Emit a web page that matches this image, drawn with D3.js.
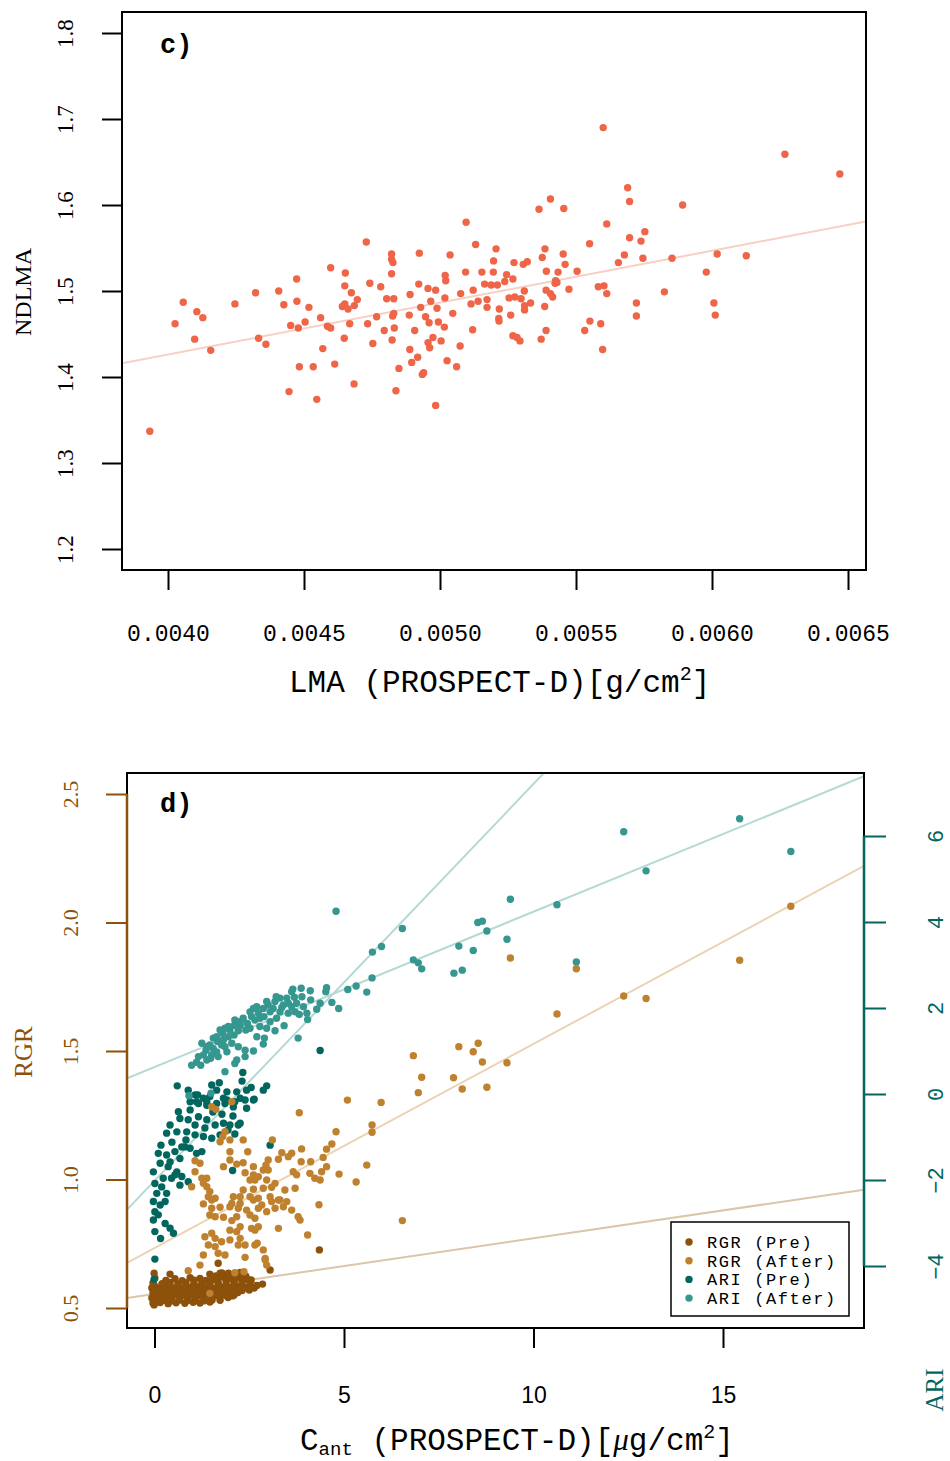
<!DOCTYPE html>
<html><head><meta charset="utf-8">
<script src="https://cdn.jsdelivr.net/npm/d3@7"></script>
<style>body{margin:0;background:#fff} svg{display:block}</style>
</head><body>
<svg id="chart" width="950" height="1461"></svg>
<script>
// ================= DATA =================
// Panel c : LMA (PROSPECT-D) vs NDLMA
const lmaValues = [0.003933,0.004026,0.004056,0.004106,0.004128,0.004098,0.004157,0.004246,0.004322,0.004333,0.004360,0.004407,0.004426,0.004473,0.004474,0.004518,0.004451,0.004479,0.004504,0.004445,0.004483,0.004534,0.004547,0.004561,0.004569,0.004586,0.004598,0.004598,0.004613,0.004652,0.004650,0.004674,0.004696,0.004641,0.004650,0.004662,0.004685,0.004668,0.004648,0.004684,0.004729,0.004742,0.004782,0.004804,0.004830,0.004767,0.004734,0.004753,0.004795,0.004822,0.004822,0.004827,0.004822,0.004830,0.004826,0.004832,0.004824,0.004849,0.004838,0.004924,0.004922,0.004890,0.004887,0.004929,0.004907,0.004889,0.004918,0.004896,0.004940,0.004935,0.004984,0.004956,0.004984,0.004966,0.004989,0.004947,0.004960,0.004994,0.005016,0.004974,0.004956,0.004962,0.005004,0.005026,0.005061,0.005074,0.005047,0.005018,0.005019,0.005021,0.005037,0.005096,0.005131,0.005094,0.005154,0.005164,0.005122,0.005076,0.005114,0.005140,0.005173,0.005173,0.005120,0.005600,0.006268,0.006470,0.005690,0.005697,0.005892,0.005406,0.005364,0.005455,0.005613,0.005753,0.005697,0.005739,0.005550,0.005206,0.005386,0.005376,0.005453,0.005678,0.005746,0.005853,0.006019,0.006126,0.005197,0.005272,0.005306,0.005321,0.005460,0.005656,0.005196,0.005245,0.005391,0.005434,0.005504,0.005979,0.005188,0.005211,0.005238,0.005268,0.005425,0.005430,0.005423,0.005582,0.005603,0.005310,0.005390,0.005406,0.005414,0.005474,0.005613,0.005825,0.005254,0.005275,0.005298,0.005333,0.005311,0.005311,0.005218,0.005385,0.005722,0.006007,0.006012,0.005722,0.005260,0.005216,0.005217,0.005390,0.005532,0.005551,0.005591,0.005268,0.005283,0.005294,0.005372,0.005598];
const ndlmaValues = [1.337,1.462,1.487,1.476,1.469,1.444,1.431,1.485,1.498,1.445,1.438,1.500,1.484,1.514,1.488,1.481,1.460,1.457,1.464,1.383,1.412,1.412,1.374,1.469,1.433,1.459,1.457,1.527,1.415,1.521,1.506,1.498,1.490,1.482,1.485,1.479,1.483,1.462,1.445,1.392,1.557,1.509,1.505,1.491,1.491,1.470,1.462,1.439,1.454,1.543,1.537,1.533,1.520,1.474,1.471,1.457,1.443,1.410,1.384,1.544,1.508,1.496,1.472,1.481,1.454,1.432,1.423,1.417,1.405,1.403,1.367,1.503,1.501,1.488,1.480,1.470,1.463,1.464,1.458,1.446,1.440,1.434,1.442,1.419,1.412,1.436,1.474,1.492,1.518,1.512,1.542,1.580,1.554,1.522,1.522,1.508,1.501,1.497,1.485,1.488,1.490,1.481,1.455,1.690,1.659,1.636,1.620,1.604,1.600,1.607,1.595,1.596,1.578,1.569,1.562,1.558,1.555,1.549,1.549,1.539,1.543,1.542,1.538,1.538,1.543,1.541,1.535,1.533,1.531,1.534,1.531,1.533,1.522,1.519,1.523,1.522,1.523,1.522,1.507,1.507,1.511,1.514,1.512,1.510,1.509,1.505,1.506,1.500,1.501,1.497,1.493,1.502,1.497,1.499,1.492,1.493,1.491,1.486,1.483,1.478,1.479,1.482,1.486,1.486,1.472,1.471,1.472,1.468,1.465,1.454,1.454,1.465,1.462,1.448,1.446,1.442,1.444,1.432];
const lmaTicks = [0.0040,0.0045,0.0050,0.0055,0.0060,0.0065];
const ndlmaTicks = [1.2,1.3,1.4,1.5,1.6,1.7,1.8];
const fitNdlma = [1.185, 60.3];              // intercept, slope

// Panel d : Cant (PROSPECT-D) vs RGR (left axis) and ARI (right axis); pairs [Cant, value]
const rgrPre = [[-0.04,0.519],[0.15,0.521],[0.36,0.517],[0.57,0.520],[0.80,0.518],[1.02,0.522],[1.20,0.519],[1.46,0.523],
[0.05,0.529],[0.25,0.530],[0.46,0.528],[0.67,0.531],[0.88,0.529],[1.09,0.530],[1.31,0.528],[1.52,0.531],[1.73,0.530],
[-0.07,0.539],[0.09,0.537],[0.28,0.541],[0.46,0.536],[0.67,0.540],[0.88,0.538],[1.09,0.542],[1.31,0.537],[1.52,0.540],[1.73,0.544],[1.94,0.541],
[0.00,0.548],[0.20,0.549],[0.41,0.547],[0.62,0.550],[0.83,0.548],[1.04,0.549],[1.25,0.547],[1.46,0.550],[1.68,0.548],[1.89,0.549],[2.10,0.551],
[-0.04,0.558],[0.15,0.560],[0.33,0.556],[0.54,0.559],[0.75,0.562],[0.94,0.557],[1.15,0.560],[1.36,0.555],[1.60,0.561],[1.78,0.558],[1.99,0.563],[2.20,0.560],
[0.04,0.568],[0.23,0.569],[0.44,0.567],[0.65,0.570],[0.86,0.568],[1.06,0.569],[1.27,0.567],[1.48,0.570],[1.69,0.568],[1.89,0.569],[2.10,0.571],[2.31,0.568],[2.50,0.570],
[-0.07,0.578],[0.09,0.576],[0.30,0.580],[0.51,0.577],[0.73,0.575],[0.94,0.579],[1.15,0.582],[1.36,0.578],[1.57,0.576],[1.78,0.581],[1.99,0.579],[2.20,0.583],[2.41,0.580],[2.63,0.578],
[0.00,0.587],[0.20,0.588],[0.41,0.586],[0.62,0.589],[0.83,0.587],[1.04,0.588],[1.25,0.586],[1.46,0.589],[1.68,0.587],[1.89,0.588],[2.10,0.590],[2.31,0.587],[2.52,0.589],[2.70,0.588],
[-0.04,0.597],[0.20,0.595],[0.41,0.599],[0.62,0.594],[0.83,0.598],[1.04,0.596],[1.25,0.601],[1.46,0.597],[1.68,0.599],[1.89,0.603],[2.10,0.598],[2.31,0.601],[2.52,0.604],
[0.30,0.607],[0.73,0.606],[1.04,0.608],[1.36,0.607],[1.62,0.609],[1.89,0.610],[2.10,0.608],[2.31,0.611],[2.55,0.609],
[0.01,0.617],[0.54,0.614],[0.94,0.618],[1.20,0.615],[1.52,0.619],[1.78,0.621],[1.99,0.616],[2.20,0.620],[2.41,0.624],
[1.62,0.625],[1.89,0.626],[2.15,0.624],[2.36,0.627],
[1.46,0.632],[1.78,0.636],[2.04,0.630],[2.26,0.638],
[0.41,0.632],[-0.01,0.635],[4.35,0.726],[2.85,0.593],[3.05,0.648],[2.06,0.547],[1.68,0.674],[1.95,0.635],[1.73,0.635],[2.47,0.609],[-0.01,0.512]];
const rgrAfter = [[1.51,1.283],[1.62,1.273],[2.04,1.303],[3.82,1.260],[5.09,1.309],[4.79,1.186],[1.86,1.186],[1.80,1.167],[1.73,1.147],[1.99,1.154],[2.34,1.154],[3.11,1.154],[4.68,1.138],[4.54,1.118],[3.88,1.119],[1.99,1.108],[2.46,1.108],[3.36,1.104],[3.62,1.102],[3.53,1.089],[3.27,1.079],[4.45,1.086],[3.00,1.076],[2.94,1.056],[1.99,1.076],[2.17,1.060],[1.07,1.073],[1.20,1.063],[1.82,1.050],[2.34,1.065],[3.87,1.069],[4.12,1.069],[4.54,1.050],[2.61,1.050],[2.87,1.037],[3.00,1.037],[2.39,1.026],[2.61,1.018],[2.74,1.011],[3.66,1.030],[3.75,1.018],[4.10,1.024],[4.41,1.030],[4.87,1.021],[1.07,1.030],[1.25,1.005],[1.38,1.005],[1.29,0.985],[2.52,0.998],[2.65,0.998],[2.96,0.998],[3.18,0.985],[4.23,1.005],[4.37,0.998],[5.32,0.990],[0.98,0.972],[1.38,0.972],[1.46,0.953],[2.34,0.959],[2.61,0.962],[2.87,0.966],[3.09,0.970],[3.44,0.959],[3.71,0.966],[1.42,0.933],[1.51,0.920],[1.60,0.927],[2.08,0.933],[2.26,0.933],[2.52,0.933],[2.74,0.927],[3.05,0.933],[3.27,0.920],[2.04,0.907],[2.26,0.907],[2.61,0.920],[2.83,0.901],[3.09,0.914],[3.31,0.920],[3.49,0.914],[1.29,0.905],[1.51,0.888],[1.73,0.892],[1.99,0.894],[2.21,0.888],[2.43,0.881],[2.74,0.888],[2.96,0.875],[3.18,0.888],[3.40,0.894],[3.62,0.881],[4.34,0.902],[1.46,0.862],[1.60,0.855],[1.82,0.853],[2.17,0.855],[2.52,0.862],[2.65,0.849],[3.79,0.855],[3.84,0.842],[2.04,0.840],[2.26,0.816],[1.99,0.803],[2.17,0.797],[2.56,0.810],[2.74,0.816],[2.65,0.803],[3.27,0.810],[4.04,0.784],[1.33,0.777],[1.51,0.791],[1.60,0.771],[1.77,0.758],[1.42,0.745],[1.60,0.739],[1.99,0.765],[2.26,0.771],[2.21,0.745],[2.39,0.745],[2.65,0.745],[2.71,0.752],[2.87,0.726],[1.29,0.706],[1.68,0.713],[1.86,0.706],[2.39,0.697],[2.92,0.693],[6.83,1.482],[8.03,1.517],[8.54,1.530],[8.41,1.497],[8.65,1.457],[7.05,1.398],[6.96,1.338],[7.89,1.396],[8.12,1.352],[8.77,1.359],[5.98,1.300],[5.74,1.212],[5.74,1.184],[5.60,1.056],[6.54,0.840],[2.92,0.687],[2.96,0.667],[2.12,0.637],[2.36,0.641],[0.89,0.645],[1.46,0.557],[1.20,0.667],[9.39,1.862],[11.13,1.820],[15.44,1.853],[16.79,2.063],[12.38,1.714],[12.97,1.704],[10.62,1.644],[9.30,1.454]];
const ariPre = [[4.37,1.01],[2.33,0.50],[2.31,0.30],[2.55,0.15],[2.96,0.19],[2.87,0.09],[2.63,-0.12],[0.60,0.19],[0.89,0.09],[1.07,-0.02],[1.51,0.21],[1.71,0.26],[1.64,0.09],[1.91,0.05],[2.17,0.05],[1.82,-0.10],[2.26,-0.10],[1.29,-0.10],[0.94,-0.18],[1.14,-0.02],[1.46,-0.06],[2.43,0.09],[1.11,-0.18],[1.38,-0.26],[1.64,-0.22],[1.91,-0.14],[2.12,-0.18],[2.39,-0.14],[2.43,-0.33],[3.05,-1.19],[2.06,-1.78],[0.63,-0.41],[0.94,-0.37],[1.16,-0.22],[1.38,-0.18],[1.86,-0.22],[2.08,-0.30],[2.61,-0.14],[0.67,-0.57],[0.89,-0.60],[1.16,-0.53],[1.38,-0.60],[1.60,-0.72],[1.82,-0.68],[1.99,-0.72],[2.26,-0.68],[0.32,-0.91],[0.59,-0.88],[0.85,-0.88],[1.07,-0.95],[1.29,-0.99],[1.51,-1.03],[1.73,-0.95],[2.12,-0.93],[0.10,-1.38],[0.32,-1.42],[0.54,-1.34],[0.72,-1.23],[0.94,-1.26],[1.11,-1.38],[1.25,-1.34],[0.67,-1.50],[0.15,-1.61],[0.36,-1.69],[0.59,-1.81],[-0.03,-1.81],[0.23,-1.96],[0.45,-1.96],[0.72,-1.92],[0.89,-2.04],[0.01,-2.08],[0.19,-2.16],[0.06,-2.31],[-0.03,-2.50],[0.15,-2.58],[0.28,-2.50],[0.01,-2.74],[0.10,-2.81],[-0.03,-2.93],[0.28,-3.01],[0.41,-3.12],[0.50,-3.24],[0.01,-3.20],[0.16,-3.36],[0.01,-3.84],[-0.01,-4.31],[0.32,-2.31],[0.41,-1.58],[0.54,-1.88],[0.67,-2.12],[0.80,-1.23],[2.21,-0.72],[1.54,-0.42],[1.78,-0.47],[2.07,-0.51],[0.41,-0.72],[1.07,-0.72],[1.33,-0.79],[1.94,-0.84],[0.83,-1.07],[0.46,-1.12],[0.17,-1.19]];
const ariAfter = [[12.38,6.10],[15.44,6.40],[16.79,5.64],[12.97,5.19],[9.39,4.53],[10.62,4.40],[6.54,3.85],[8.53,3.99],[8.65,4.02],[8.77,3.79],[8.03,3.44],[8.41,3.34],[9.30,3.60],[6.83,3.12],[6.96,3.05],[7.05,2.91],[7.90,2.81],[8.12,2.88],[11.13,3.07],[5.99,3.43],[4.79,4.25],[5.75,3.30],[5.74,2.70],[5.10,2.43],[5.32,2.51],[5.60,2.37],[4.54,2.47],[4.52,2.38],[4.11,2.40],[4.12,2.19],[4.68,2.13],[4.86,1.99],[4.37,2.11],[4.28,1.97],[4.04,1.73],[3.79,1.30],[3.42,1.59],[3.18,1.47],[3.65,2.44],[3.87,2.46],
[3.89,2.26],[3.69,2.25],[3.62,2.38],[3.49,2.23],[3.31,2.23],[3.21,2.26],[3.18,2.15],[3.40,2.07],[3.62,2.03],[3.71,1.91],[3.53,1.88],[3.31,1.91],[3.13,1.99],[3.00,2.07],[2.87,1.99],[3.05,1.91],[2.89,1.80],[2.74,1.88],[2.61,1.99],[2.52,1.91],[2.65,1.72],[2.45,1.64],[2.34,1.76],[2.26,1.60],[2.41,1.49],[2.21,1.47],[2.11,1.60],[1.99,1.49],[2.10,1.37],[1.95,1.33],[1.80,1.41],[1.73,1.49],[1.82,1.26],[1.66,1.22],[1.55,1.30],[1.46,1.14],[1.55,1.06],[1.36,1.02],[1.25,1.18],[1.29,0.91],[1.16,0.87],[1.11,0.74],[0.98,0.67],[1.22,0.67],[1.38,0.79],[1.51,0.91],[1.64,0.98],[1.91,0.98],[1.77,1.14],[1.86,1.10],[2.04,1.18],[2.21,1.10],[2.39,1.02],[2.61,1.00],[2.39,0.87],[2.17,0.79],[2.12,0.71],[1.86,0.52],[2.70,1.33],[2.90,1.30],[2.87,1.16],[2.52,1.53],[2.78,1.57],[3.82,1.85],[2.96,2.15],[2.70,2.03],[2.78,1.76],[2.56,1.80],[2.26,1.68],[2.12,1.72],[1.95,1.57],[1.86,1.53],[1.64,1.33],[1.38,1.10],[1.48,0.83],[1.68,0.87],[3.36,2.01],[3.53,2.11],[3.75,2.11],[3.93,2.03],[4.02,1.88],[3.22,1.76],[3.05,1.68],[2.96,1.53],[1.49,0.02],[0.91,-0.04]];
const cantTicks = [0, 5, 10, 15];
const rgrTicks = [0.5, 1.0, 1.5, 2.0, 2.5];
const ariTicks = [-4, -2, 0, 2, 4, 6];
const fitRgrPre = [0.555, 0.02165], fitRgrAfter = [0.7335, 0.0794];
const fitAriPre = [-2.02, 0.923], fitAriAfter = [0.626, 0.3613];
const legendLabels = ["RGR (Pre)", "RGR (After)", "ARI (Pre)", "ARI (After)"];

// ================= DRAWING =================
const svg = d3.select("#chart");
const mono = "'Liberation Mono','DejaVu Sans Mono',monospace";
const serif = "'Liberation Serif','DejaVu Serif',serif";
const sans = "'Liberation Sans','DejaVu Sans',sans-serif";
const R = 3.7;
const col = {rp:"#8c510a", ra:"#bf812d", ap:"#01665e", aa:"#35978f"};

// ---------- Panel c ----------
const boxC = {l:122, r:866, t:12, b:570};
const xC = d3.scaleLinear().domain([0.004, 0.0065]).range([168, 848]);
const yC = d3.scaleLinear().domain([1.2, 1.8]).range([549, 33]);
svg.append("clipPath").attr("id","clipC").append("rect")
  .attr("x",boxC.l).attr("y",boxC.t).attr("width",boxC.r-boxC.l).attr("height",boxC.b-boxC.t);

const xEndsC = [xC.invert(boxC.l), xC.invert(boxC.r)];
svg.append("path").attr("clip-path","url(#clipC)")
  .attr("d", d3.line().x(d=>xC(d)).y(d=>yC(fitNdlma[0]+fitNdlma[1]*d))(xEndsC))
  .attr("stroke","#f8cfc4").attr("stroke-width",2).attr("fill","none");

svg.append("g").selectAll("circle").data(lmaValues.map((v,i)=>[v, ndlmaValues[i]])).join("circle")
  .attr("cx",d=>xC(d[0])).attr("cy",d=>yC(d[1])).attr("r",R).attr("fill","#ef6548");

svg.append("rect").attr("x",boxC.l).attr("y",boxC.t).attr("width",boxC.r-boxC.l).attr("height",boxC.b-boxC.t)
  .attr("fill","none").attr("stroke","#000").attr("stroke-width",2);

const gxC = svg.append("g").attr("transform",`translate(0,${boxC.b})`)
  .call(d3.axisBottom(xC).tickValues(lmaTicks).tickSize(20).tickFormat(d3.format(".4f")));
gxC.select(".domain").remove();
gxC.selectAll("line").attr("stroke","#000").attr("stroke-width",2);
gxC.selectAll("text").attr("y",71).attr("dy",0).attr("fill","#000")
  .attr("font-family",mono).attr("font-size",23);

const gyC = svg.append("g").attr("transform",`translate(${boxC.l},0)`)
  .call(d3.axisLeft(yC).tickValues(ndlmaTicks).tickSize(20).tickFormat(d3.format(".1f")));
gyC.select(".domain").remove();
gyC.selectAll("line").attr("stroke","#000").attr("stroke-width",2);
gyC.selectAll("text").attr("x",0).attr("dy",0).attr("fill","#000")
  .attr("transform","translate(-49,0) rotate(-90)").attr("text-anchor","middle")
  .attr("font-family",serif).attr("font-size",23);

svg.append("text").attr("x",160).attr("y",53).text("c)")
  .attr("font-family",mono).attr("font-weight","bold").attr("font-size",27);

const tC = svg.append("text").attr("x",289).attr("y",692).attr("font-family",mono).attr("font-size",31);
tC.append("tspan").text("LMA (PROSPECT-D)[g/cm");
tC.append("tspan").text("2").attr("font-size",20).attr("dy",-12);
tC.append("tspan").text("]").attr("dy",12);

svg.append("text").attr("transform","translate(31,292) rotate(-90)").attr("text-anchor","middle")
  .attr("font-family",serif).attr("font-size",24).text("NDLMA");

// ---------- Panel d ----------
const boxD = {l:127, r:864, t:773, b:1328};
const xD = d3.scaleLinear().domain([0, 15]).range([154.5, 723]);
const yR = d3.scaleLinear().domain([0.5, 2.5]).range([1308, 794]);
const yA = d3.scaleLinear().domain([-4, 6]).range([1266, 836]);
svg.append("clipPath").attr("id","clipD").append("rect")
  .attr("x",boxD.l).attr("y",boxD.t).attr("width",boxD.r-boxD.l).attr("height",boxD.b-boxD.t);

const xEndsD = [xD.invert(boxD.l), xD.invert(boxD.r)];
const fitLines = [
  {f:fitRgrPre, y:yR, c:"#dbc6aa"},
  {f:fitRgrAfter, y:yR, c:"#ebd3b4"},
  {f:fitAriPre, y:yA, c:"#b4d8d3"},
  {f:fitAriAfter, y:yA, c:"#b4d8d3"}
];
svg.append("g").attr("clip-path","url(#clipD)").selectAll("path").data(fitLines).join("path")
  .attr("d", L => d3.line().x(d=>xD(d)).y(d=>L.y(L.f[0]+L.f[1]*d))(xEndsD))
  .attr("stroke", L=>L.c).attr("stroke-width",2).attr("fill","none");

const series = [
  {pts:rgrPre, y:yR, c:col.rp},
  {pts:ariPre, y:yA, c:col.ap},
  {pts:ariAfter, y:yA, c:col.aa},
  {pts:rgrAfter, y:yR, c:col.ra}
];
series.forEach(s => {
  svg.append("g").attr("clip-path","url(#clipD)").selectAll("circle").data(s.pts).join("circle")
    .attr("cx",d=>xD(d[0])).attr("cy",d=>s.y(d[1])).attr("r",R).attr("fill",s.c);
});

svg.append("rect").attr("x",boxD.l).attr("y",boxD.t).attr("width",boxD.r-boxD.l).attr("height",boxD.b-boxD.t)
  .attr("fill","none").attr("stroke","#000").attr("stroke-width",2);

// x axis
const gxD = svg.append("g").attr("transform",`translate(0,${boxD.b})`)
  .call(d3.axisBottom(xD).tickValues(cantTicks).tickSize(20).tickFormat(d3.format("d")));
gxD.select(".domain").remove();
gxD.selectAll("line").attr("stroke","#000").attr("stroke-width",2);
gxD.selectAll("text").attr("y",75).attr("dy",0).attr("fill","#000")
  .attr("font-family",sans).attr("font-size",23);

// left RGR axis
const gyR = svg.append("g").attr("transform",`translate(${boxD.l},0)`)
  .call(d3.axisLeft(yR).tickValues(rgrTicks).tickSize(21).tickFormat(d3.format(".1f")));
gyR.select(".domain").remove();
gyR.selectAll("line").attr("stroke",col.rp).attr("stroke-width",2);
gyR.append("line").attr("x1",0).attr("x2",0).attr("y1",yR(0.5)).attr("y2",yR(2.5))
  .attr("stroke",col.rp).attr("stroke-width",2.5);
gyR.selectAll("text").attr("x",0).attr("dy",0).attr("fill",col.rp)
  .attr("transform","translate(-49,0) rotate(-90)").attr("text-anchor","middle")
  .attr("font-family",serif).attr("font-size",22);

// right ARI axis
const gyA = svg.append("g").attr("transform",`translate(${boxD.r},0)`)
  .call(d3.axisRight(yA).tickValues(ariTicks).tickSize(22).tickFormat(d3.format("d")));
gyA.select(".domain").remove();
gyA.selectAll("line").attr("stroke",col.ap).attr("stroke-width",2);
gyA.append("line").attr("x1",0).attr("x2",0).attr("y1",yA(-4)).attr("y2",yA(6))
  .attr("stroke",col.ap).attr("stroke-width",2.5);
gyA.selectAll("text").attr("x",0).attr("dy",0).attr("fill",col.ap)
  .attr("transform","translate(79,0) rotate(-90)").attr("text-anchor","middle")
  .attr("font-family",mono).attr("font-size",22);

svg.append("text").attr("x",160).attr("y",812).text("d)")
  .attr("font-family",mono).attr("font-weight","bold").attr("font-size",27);

svg.append("text").attr("transform","translate(32,1052) rotate(-90)").attr("text-anchor","middle")
  .attr("font-family",serif).attr("font-size",25).attr("fill",col.rp).text("RGR");
svg.append("text").attr("transform","translate(943,1390) rotate(-90)").attr("text-anchor","middle")
  .attr("font-family",serif).attr("font-size",25).attr("fill",col.ap).text("ARI");

const tD = svg.append("text").attr("x",300).attr("y",1450).attr("font-family",mono).attr("font-size",31);
tD.append("tspan").text("C");
tD.append("tspan").text("ant").attr("font-size",19).attr("dy",5);
tD.append("tspan").text(" (PROSPECT-D)[").attr("dy",-5);
tD.append("tspan").text("\u03BC").attr("font-family",serif).attr("font-style","italic");
tD.append("tspan").text("g/cm");
tD.append("tspan").text("2").attr("font-size",20).attr("dy",-12);
tD.append("tspan").text("]").attr("dy",12);

// legend
const leg = svg.append("g");
leg.append("rect").attr("x",671).attr("y",1222).attr("width",178).attr("height",94)
  .attr("fill","#fff").attr("stroke","#000").attr("stroke-width",1.5);
const legColors = [col.rp, col.ra, col.ap, col.aa];
leg.selectAll("circle").data(legendLabels).join("circle")
  .attr("cx",689).attr("cy",(d,i)=>1242+i*18.7).attr("r",R).attr("fill",(d,i)=>legColors[i]);
leg.selectAll("text").data(legendLabels).join("text")
  .attr("x",707).attr("y",(d,i)=>1248+i*18.7).text(d=>d)
  .attr("font-family",mono).attr("font-size",17).attr("letter-spacing",1.6)
  .attr("fill","#000").attr("xml:space","preserve");
</script>
</body></html>
